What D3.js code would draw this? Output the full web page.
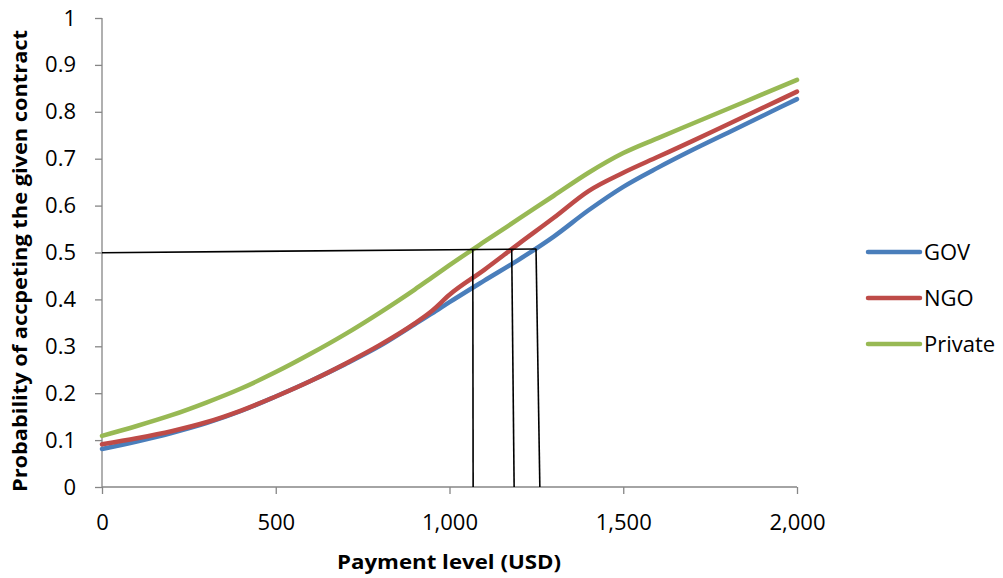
<!DOCTYPE html>
<html>
<head>
<meta charset="utf-8">
<script src="https://cdn.jsdelivr.net/npm/d3@7"></script>
<style>
  html, body { margin: 0; padding: 0; background: #fff; }
  svg { display: block; }
  text { font-family: "Open Sans", "Noto Sans", sans-serif; fill: #000; }
</style>
</head>
<body>
<svg id="chart" width="1003" height="578"></svg>
<script>
// ---- data ----
const payment = [0, 100, 200, 300, 400, 500, 600, 700, 800, 900, 950, 1000, 1100, 1200, 1300, 1400, 1500, 1600, 1700, 1800, 1900, 2000];
const gov     = [0.081, 0.097, 0.115, 0.136, 0.162, 0.193, 0.226, 0.262, 0.301, 0.347, 0.370, 0.394, 0.440, 0.485, 0.534, 0.590, 0.640, 0.681, 0.719, 0.755, 0.791, 0.827];
const ngo     = [0.091, 0.104, 0.119, 0.138, 0.163, 0.193, 0.226, 0.263, 0.303, 0.349, 0.376, 0.410, 0.463, 0.519, 0.574, 0.631, 0.670, 0.704, 0.738, 0.773, 0.808, 0.843];
const priv    = [0.109, 0.130, 0.153, 0.180, 0.210, 0.245, 0.284, 0.326, 0.372, 0.421, 0.447, 0.473, 0.523, 0.572, 0.621, 0.670, 0.712, 0.744, 0.775, 0.806, 0.837, 0.868];
const seriesNames = ["GOV", "NGO", "Private"];
const seriesColors = ["#4A7EBB", "#BE4B48", "#98B954"];
const xTicks = [0, 500, 1000, 1500, 2000];
const yTicks = [0, 0.1, 0.2, 0.3, 0.4, 0.5, 0.6, 0.7, 0.8, 0.9, 1];
// reference lines (payment, probability) pairs
const refLines = [
  [[0, 0.4995], [1250, 0.5075]],
  [[1067, 0.5075], [1068, 0]],
  [[1179, 0.5075], [1186, 0]],
  [[1249, 0.5075], [1260, 0]]
];
const xTitle = "Payment level (USD)";
const yTitle = "Probability of accpeting the given contract";

// ---- layout ----
const svg = d3.select("#chart");
const x = d3.scaleLinear().domain([0, 2000]).range([102, 797]);
const y = d3.scaleLinear().domain([0, 1]).range([487, 18]);
const axisColor = "#868686";

// y axis
const yAxis = svg.append("g").attr("transform", `translate(${x(0)},0)`)
  .call(d3.axisLeft(y).tickValues(yTicks).tickSize(7).tickPadding(19)
    .tickFormat(d => d === 0 || d === 1 ? d3.format("d")(d) : d3.format(".1f")(d)));
// x axis
const xAxis = svg.append("g").attr("transform", `translate(0,${y(0)})`)
  .call(d3.axisBottom(x).tickValues(xTicks).tickSize(7).tickPadding(20)
    .tickFormat(d3.format(",")));
[yAxis, xAxis].forEach(g => {
  g.select(".domain").attr("stroke", axisColor).attr("stroke-width", 1.3);
  g.selectAll(".tick line").attr("stroke", axisColor).attr("stroke-width", 1.3);
  g.selectAll(".tick text").attr("font-size", 22).attr("font-family", "Open Sans").attr("fill", "#000");
});
yAxis.select(".domain").attr("d", `M0,${y(1)}V${y(0)}`);
xAxis.select(".domain").attr("d", `M${x(0)},0H${x(2000)}`);

// series
const seriesData = [gov, ngo, priv];
const line = d3.line().x((d, i) => x(payment[i])).y(d => y(d)).curve(d3.curveMonotoneX);
seriesData.forEach((s, k) => {
  svg.append("path").datum(s)
    .attr("d", line)
    .attr("fill", "none")
    .attr("stroke", seriesColors[k])
    .attr("stroke-width", 4.5)
    .attr("stroke-linejoin", "round")
    .attr("stroke-linecap", "round");
});

// reference lines
refLines.forEach(seg => {
  svg.append("line")
    .attr("x1", x(seg[0][0])).attr("y1", y(seg[0][1]))
    .attr("x2", x(seg[1][0])).attr("y2", y(seg[1][1]))
    .attr("stroke", "#000").attr("stroke-width", 1.6);
});

// axis titles
svg.append("text")
  .attr("x", x(1000) - 0.5).attr("y", 569)
  .attr("text-anchor", "middle")
  .attr("font-size", 19).attr("font-weight", "bold")
  .attr("textLength", 224).attr("lengthAdjust", "spacingAndGlyphs")
  .text(xTitle);
svg.append("text")
  .attr("transform", `translate(27,${261}) rotate(-90)`)
  .attr("text-anchor", "middle")
  .attr("font-size", 19).attr("font-weight", "bold")
  .attr("textLength", 462).attr("lengthAdjust", "spacingAndGlyphs")
  .text(yTitle);

// legend
const legendY = [252, 298, 344];
seriesNames.forEach((name, k) => {
  const g = svg.append("g");
  g.append("line")
    .attr("x1", 868).attr("x2", 920)
    .attr("y1", legendY[k]).attr("y2", legendY[k])
    .attr("stroke", seriesColors[k]).attr("stroke-width", 4.5)
    .attr("stroke-linecap", "round");
  g.append("text")
    .attr("x", 924).attr("y", legendY[k] + 8)
    .attr("font-size", 22)
    .text(name);
});
</script>
</body>
</html>
